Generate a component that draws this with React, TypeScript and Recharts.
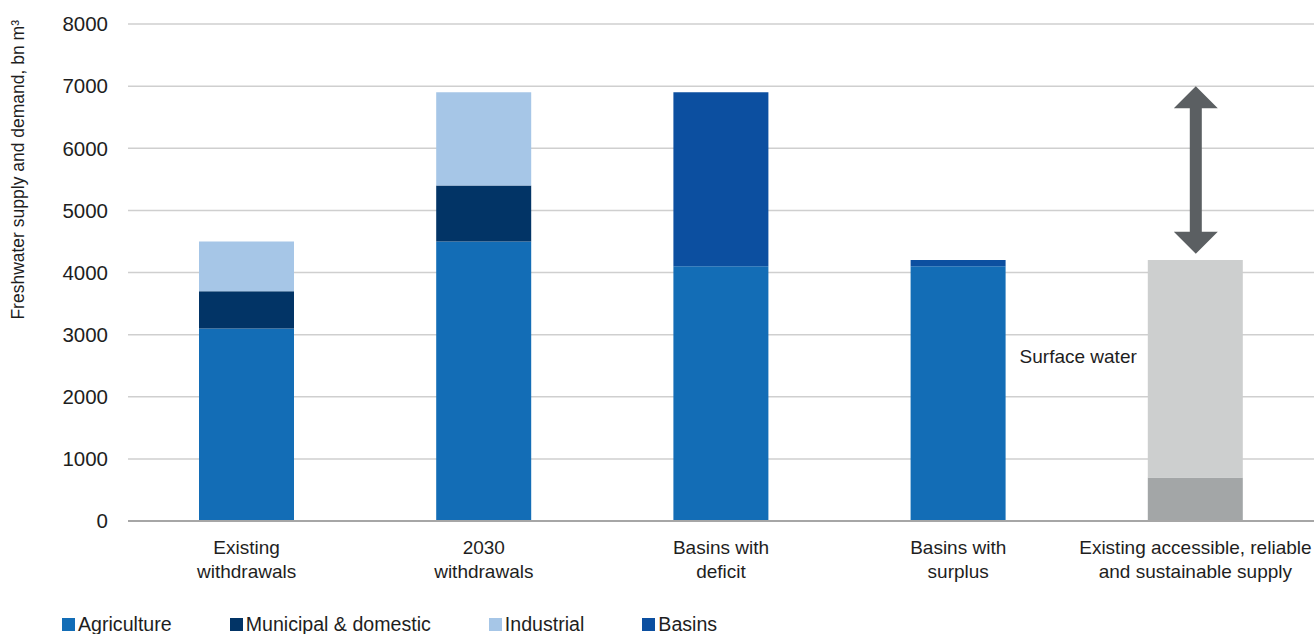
import React from 'react';
import {
  BarChart,
  Bar,
  XAxis,
  YAxis,
  CartesianGrid,
  Legend,
  LabelList,
} from 'recharts';

// Categories (line breaks mark the two-line axis labels)
const categories = [
  'Existing\nwithdrawals',
  '2030\nwithdrawals',
  'Basins with\ndeficit',
  'Basins with\nsurplus',
  'Existing accessible, reliable\nand sustainable supply',
];

// Stacked segment values, bn m³
const agriculture = [3100, 4500, 4100, 4100, null];
const municipal = [600, 900, null, null, null];
const industrial = [800, 1500, null, null, null];
const basins = [null, null, 2800, 100, null];
const groundwater = [null, null, null, null, 700];
const surfaceWater = [null, null, null, null, 3500];

// Gap between current supply and 2030 demand (low, high)
const gapArrow: ([number, number] | null)[] = [null, null, null, null, [4300, 7000]];

const yTicks = [0, 1000, 2000, 3000, 4000, 5000, 6000, 7000, 8000];
const yAxisTitle = 'Freshwater supply and demand, bn m³';
const surfaceLabel = 'Surface water';

const legendItems = [
  { name: 'Agriculture', color: '#136DB6' },
  { name: 'Municipal & domestic', color: '#023466' },
  { name: 'Industrial', color: '#A6C6E7' },
  { name: 'Basins', color: '#0C4FA0' },
];

const COLORS = {
  agriculture: '#136DB6',
  municipal: '#023466',
  industrial: '#A6C6E7',
  basins: '#0C4FA0',
  groundwater: '#A3A6A7',
  surface: '#CDCFCF',
  arrow: '#5B5F62',
};

const FONT = '"Liberation Sans", Arial, sans-serif';
const TEXT = '#1e1e1e';

const data = categories.map((c, i) => ({
  category: c,
  agriculture: agriculture[i],
  municipal: municipal[i],
  industrial: industrial[i],
  basins: basins[i],
  groundwater: groundwater[i],
  surface: surfaceWater[i],
  gap: gapArrow[i],
}));

const CategoryTick = (props: any) => {
  const { x, y, payload } = props;
  const lines = String(payload.value).split('\n');
  return (
    <text x={x} y={y} textAnchor="middle" fill={TEXT} fontFamily={FONT} fontSize={19}>
      {lines.map((l, i) => (
        <tspan key={i} x={x} dy={i === 0 ? 25 : 24}>
          {l}
        </tspan>
      ))}
    </text>
  );
};

// Double-headed arrow filling the range bar's box
const ArrowShape = (props: any) => {
  const { x, y, width, height } = props;
  if (!height) return null;
  const cx = x + width / 2;
  const head = 22;
  const shaft = 6;
  const hw = width / 2;
  const top = y;
  const bot = y + height;
  const pts = [
    [cx, top],
    [cx + hw, top + head],
    [cx + shaft, top + head],
    [cx + shaft, bot - head],
    [cx + hw, bot - head],
    [cx, bot],
    [cx - hw, bot - head],
    [cx - shaft, bot - head],
    [cx - shaft, top + head],
    [cx - hw, top + head],
  ]
    .map((p) => p.join(','))
    .join(' ');
  return <polygon points={pts} fill={COLORS.arrow} />;
};

const SurfaceLabel = (props: any) => {
  const { x, y, height, value } = props;
  if (value == null) return null;
  return (
    <text
      x={x - 11}
      y={y + height / 2 - 12}
      textAnchor="end"
      dominantBaseline="central"
      fill={TEXT}
      fontFamily={FONT}
      fontSize={19}
    >
      {surfaceLabel}
    </text>
  );
};

const LegendContent = () => (
  <div
    style={{
      display: 'flex',
      gap: 58,
      paddingLeft: 62,
      fontFamily: FONT,
      fontSize: 19.6,
      color: TEXT,
      lineHeight: '12px',
      height: 12,
    }}
  >
    {legendItems.map((it) => (
      <div key={it.name} style={{ display: 'flex', alignItems: 'center' }}>
        <span
          style={{
            display: 'inline-block',
            width: 13,
            height: 13,
            background: it.color,
            marginRight: 3,
          }}
        />
        <span>{it.name}</span>
      </div>
    ))}
  </div>
);

const YTitle = (props: any) => {
  const { viewBox } = props;
  const cx = 18;
  const top = viewBox.y - 4;
  return (
    <text
      transform={`translate(${cx}, ${top}) rotate(-90)`}
      textAnchor="end"
      dominantBaseline="central"
      fill={TEXT}
      fontFamily={FONT}
      fontSize={17.5}
    >
      {yAxisTitle}
    </text>
  );
};

export default function App() {
  return (
    <div style={{ position: 'absolute', left: 0, top: 0, background: '#fff' }}>
      <BarChart
        width={1314}
        height={634}
        data={data}
        margin={{ top: 24, right: 0, left: 0, bottom: 4 }}
      >
        <CartesianGrid vertical={false} stroke="#CFCFCF" strokeWidth={1.5} />
        <XAxis
          dataKey="category"
          tick={<CategoryTick />}
          tickLine={false}
          axisLine={{ stroke: '#A6A6A6', strokeWidth: 2 }}
          interval={0}
          height={97}
        />
        <XAxis xAxisId="arrow" dataKey="category" hide />
        <YAxis
          width={128}
          domain={[0, 8000]}
          ticks={yTicks}
          tickLine={false}
          axisLine={false}
          tickMargin={14}
          tick={{ fill: TEXT, fontFamily: FONT, fontSize: 20.5 }}
          label={<YTitle />}
        />
        <Legend verticalAlign="bottom" content={<LegendContent />} />
        <Bar dataKey="agriculture" stackId="s" fill={COLORS.agriculture} barSize={95} isAnimationActive={false} />
        <Bar dataKey="municipal" stackId="s" fill={COLORS.municipal} barSize={95} isAnimationActive={false} />
        <Bar dataKey="industrial" stackId="s" fill={COLORS.industrial} barSize={95} isAnimationActive={false} />
        <Bar dataKey="basins" stackId="s" fill={COLORS.basins} barSize={95} isAnimationActive={false} />
        <Bar dataKey="groundwater" stackId="s" fill={COLORS.groundwater} barSize={95} isAnimationActive={false} />
        <Bar dataKey="surface" stackId="s" fill={COLORS.surface} barSize={95} isAnimationActive={false}>
          <LabelList dataKey="surface" content={<SurfaceLabel />} />
        </Bar>
        <Bar
          dataKey="gap"
          xAxisId="arrow"
          barSize={44}
          shape={<ArrowShape />}
          isAnimationActive={false}
        />
      </BarChart>
    </div>
  );
}
